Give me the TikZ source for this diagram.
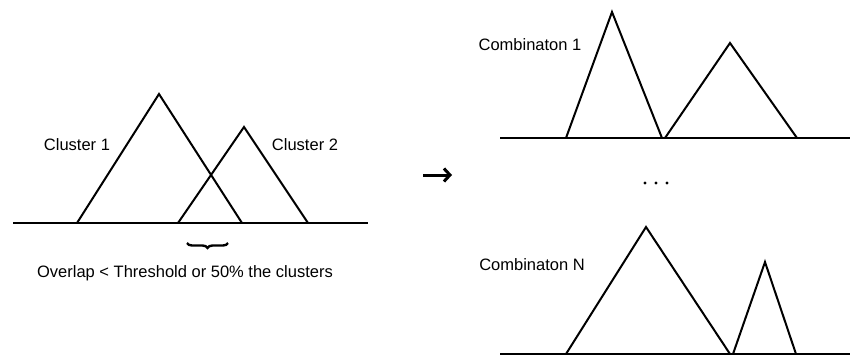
\documentclass[tikz,border=0pt]{standalone}
\usepackage{fontspec}
\setmainfont{Liberation Sans}
\usetikzlibrary{decorations.pathreplacing,arrows.meta}
\tikzset{
  axis/.style={line width=2.2pt},
  peak/.style={line width=2pt, line join=miter},
  lbl/.style={font=\fontsize{16.5}{19}\selectfont, inner sep=0pt},
}
\begin{document}
\begin{tikzpicture}[x=1pt, y=-1pt]
\useasboundingbox (0,0) rectangle (852,356);

% left panel: two overlapping clusters
\draw[axis] (13,223) -- (368,223);
\draw[peak] (77,223) -- (159,94) -- (242,223);
\draw[peak] (178,223) -- (244,127) -- (308,223);
\node[lbl] (c1) at (77,145) {Cluster 1};
\node[lbl] (c2) at (305,145) {Cluster 2};
\draw[line width=2.4pt, decorate, decoration={brace, mirror, amplitude=5pt}] (187,243) -- (228,243);
\node[lbl] (ov) at (185,273) {Overlap < Threshold or 50\% the clusters};

% transition arrow
\coordinate (a1) at (423,175);
\coordinate (a2) at (452,175);
\draw[line width=3pt, -{Straight Barb[length=6pt, width=13pt, line width=3pt]}] (a1) -- (a2);

% right panel, first combination
\draw[axis] (500,138) -- (850,138);
\draw[peak] (566,138) -- (612,12) -- (662,138);
\draw[peak] (665,138) -- (730,43) -- (797,138);
\node[lbl] (k1) at (530,45) {Combinaton 1};

% ellipsis between combinations
\foreach \x in {645,656,667} \fill (\x,183) circle (1.7pt);

% right panel, last combination
\draw[axis] (500,354) -- (850,354);
\draw[peak] (566,354) -- (646,227) -- (730,354);
\draw[peak] (733,354) -- (765,262) -- (796,354);
\node[lbl] (kn) at (532,265) {Combinaton N};
\end{tikzpicture}
\end{document}
